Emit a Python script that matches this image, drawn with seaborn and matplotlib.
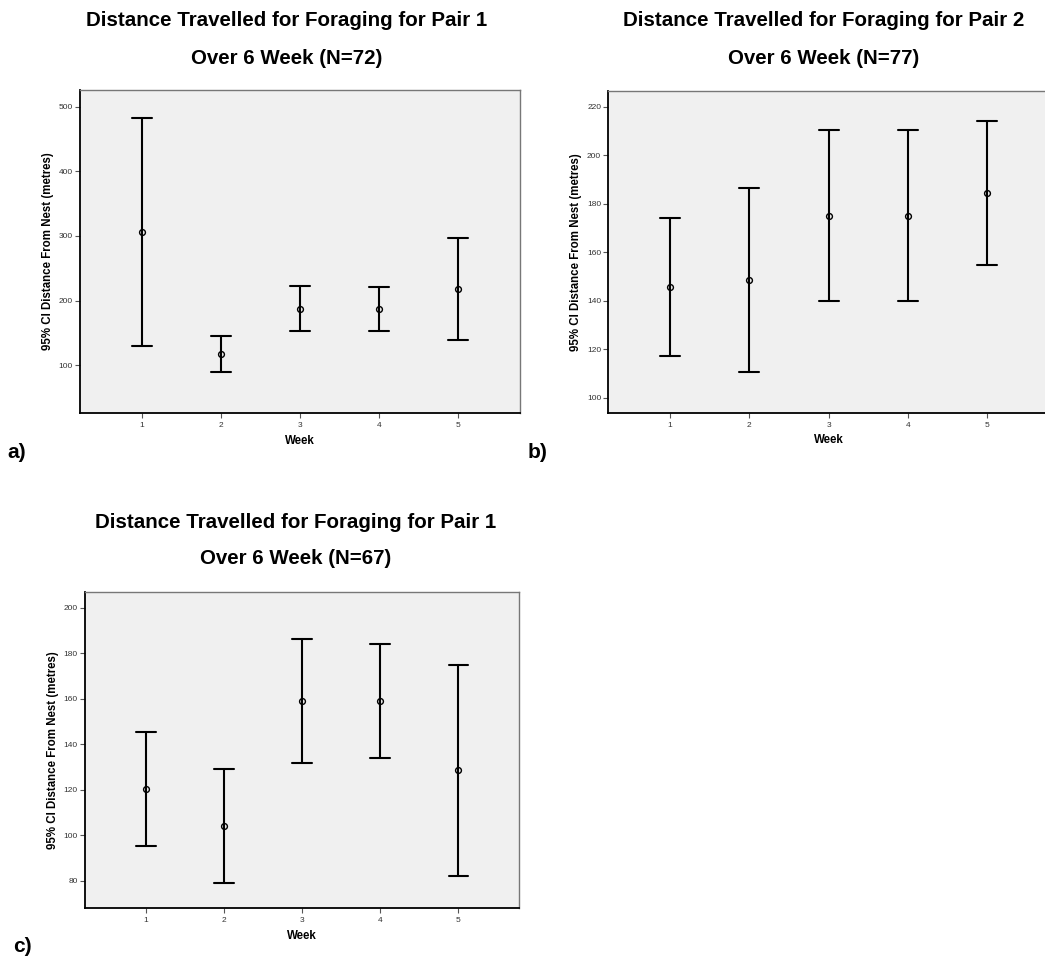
import numpy as np
import pandas as pd
import matplotlib
matplotlib.use("Agg")
import matplotlib.pyplot as plt
import seaborn as sns

sns.set_theme(style="white")
plt.rcParams['font.family'] = ['Liberation Sans', 'DejaVu Sans']
plt.rcParams['text.color'] = 'black'
plt.rcParams['axes.labelcolor'] = 'black'

weeks = [1, 2, 3, 4, 5]

# Panel a (Pair 1, N=72)
a_mean = [305.6, 117.0, 187.3, 187.3, 217.8]
a_low = [129.6, 89.3, 153.3, 153.3, 138.4]
a_high = [483.0, 145.5, 222.0, 221.4, 297.2]

# Panel b (Pair 2, N=77)
b_mean = [145.6, 148.7, 175.1, 175.1, 184.4]
b_low = [117.3, 110.7, 139.7, 139.7, 154.8]
b_high = [174.1, 186.6, 210.4, 210.4, 214.2]

# Panel c (Pair 1, N=67)
c_mean = [120.4, 104.0, 159.2, 159.2, 128.6]
c_low = [95.4, 79.1, 132.0, 134.2, 82.4]
c_high = [145.6, 129.0, 186.4, 184.2, 174.8]

titles = [
    ("Distance Travelled for Foraging for Pair 1", "Over 6 Week (N=72)"),
    ("Distance Travelled for Foraging for Pair 2", "Over 6 Week (N=77)"),
    ("Distance Travelled for Foraging for Pair 1", "Over 6 Week (N=67)"),
]
panel_tags = ["a)", "b)", "c)"]
yticks_list = [[100, 200, 300, 400, 500],
               [100, 120, 140, 160, 180, 200, 220],
               [80, 100, 120, 140, 160, 180, 200]]
ylims = [(26, 526), (93.8, 226.6), (68, 207)]
ylabel = "95% CI Distance From Nest (metres)"
xlabel = "Week"

W, H = 1045, 958
fig = plt.figure(figsize=(W / 100, H / 100), dpi=100)

# axes rectangles in pixels: left, top, right, bottom
rects = [(80, 90, 520, 413), (608.3, 90.7, 1049, 412.7), (85, 591.7, 519.3, 908.3)]
title_pos = [(287, 20, 58), (824, 20, 58), (296, 523, 558)]
tag_pos = [(7, 452), (528, 452), (13, 947)]

datasets = [(a_mean, a_low, a_high), (b_mean, b_low, b_high), (c_mean, c_low, c_high)]

for i, ((m, lo, hi), (l, t, r, b)) in enumerate(zip(datasets, rects)):
    ax = fig.add_axes([l / W, 1 - b / H, (r - l) / W, (b - t) / H])
    ax.set_facecolor("#f0f0f0")
    df = pd.DataFrame({
        "week": np.repeat(weeks, 3),
        "value": np.ravel(np.column_stack([lo, m, hi])),
    })
    sns.pointplot(data=df, x="week", y="value", estimator=np.median,
                  errorbar=lambda v: (v.min(), v.max()), native_scale=True,
                  linestyle="none", color="black", capsize=0.25,
                  markers="o", markersize=4.2, markerfacecolor="none",
                  markeredgewidth=1.0, err_kws={"linewidth": 1.5}, ax=ax)
    ax.set_xlim(0.22, 5.78)
    ax.set_ylim(*ylims[i])
    ax.set_xticks(weeks)
    ax.set_xticklabels([str(w) for w in weeks])
    ax.set_yticks(yticks_list[i])
    ax.tick_params(axis="both", which="both", direction="out", length=3.6,
                   width=0.8, color="#555555", labelsize=6, labelcolor="#333333",
                   left=True, bottom=True, pad=1.5)
    ax.tick_params(axis="x", pad=3)
    for side in ["left", "bottom"]:
        ax.spines[side].set_color("black")
        ax.spines[side].set_linewidth(1.3)
    for side in ["top", "right"]:
        ax.spines[side].set_color("#777777")
        ax.spines[side].set_linewidth(1.0)
    ax.set_xlabel(xlabel, fontsize=8.3, fontweight="bold", labelpad=4)
    ax.set_ylabel(ylabel, fontsize=8.3, fontweight="bold", labelpad=3.5)

    tx, ty1, ty2 = title_pos[i]
    fig.text(tx / W, 1 - ty1 / H, titles[i][0], ha="center", va="center",
             fontsize=14.8, fontweight="bold")
    fig.text(tx / W, 1 - ty2 / H, titles[i][1], ha="center", va="center",
             fontsize=14.8, fontweight="bold")
    gx, gy = tag_pos[i]
    fig.text(gx / W, 1 - gy / H, panel_tags[i], ha="left", va="center",
             fontsize=15, fontweight="bold")

fig.savefig("out.png", dpi=100)
